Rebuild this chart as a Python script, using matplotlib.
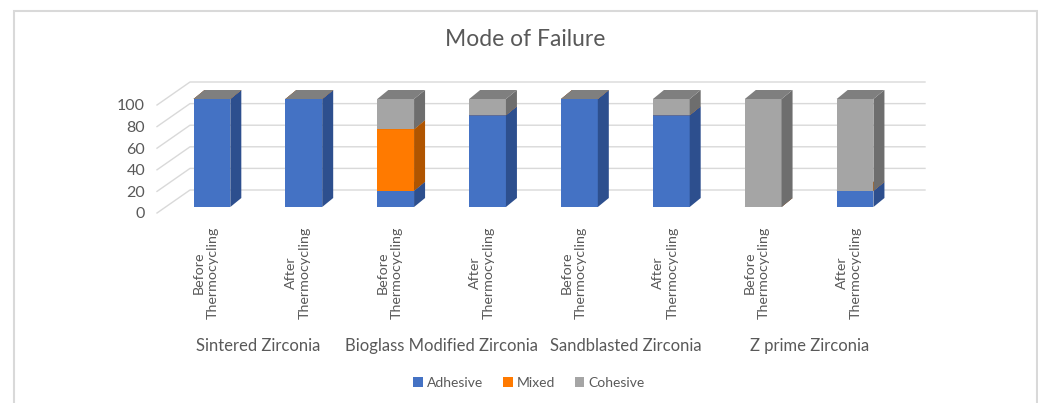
import matplotlib
matplotlib.use('Agg')
import matplotlib.pyplot as plt
from matplotlib.patches import Polygon, Rectangle, Patch
from matplotlib.transforms import ScaledTranslation

plt.rcParams['font.family'] = ['Lato', 'DejaVu Sans']

# data
groups = ['Sintered Zirconia', 'Bioglass Modified Zirconia',
          'Sandblasted Zirconia', 'Z prime Zirconia']
stages = ['Before\nThermocycling', 'After\nThermocycling']
adhesive = [100, 100, 15, 85, 100, 85, 0, 15]
mixed = [0, 0, 57, 0, 0, 0, 0, 0]
cohesive = [0, 0, 28, 15, 0, 15, 100, 85]
series_names = ['Adhesive', 'Mixed', 'Cohesive']
yticks = [0, 20, 40, 60, 80, 100]

# front / side / top colours per series
front_col = ['#4472C4', '#FF7A00', '#A5A5A5']
side_col = ['#2D4F8E', '#B05500', '#6E6E6E']
top_col = ['#3A5FA5', '#D06600', '#7F7F7F']
txt = '#595959'
grid_col = '#D9D9D9'

W, H = 1038, 403
fig = plt.figure(figsize=(W / 100, H / 100), dpi=100)
ax = fig.add_axes([166 / W, 196 / H, 735 / W, 108 / H])
ax.set_xlim(-0.5, 7.5)
ax.set_ylim(0, 100)
for sp in ax.spines.values():
    sp.set_visible(False)

# data units per pixel
ux = 8 / 735
uy = 100 / 108

# walls: slanted left lines + back lines
fx, fy = -9 * ux, -6 * uy
bx, by = 24 * ux, 17 * uy
for v in yticks:
    ax.plot([-0.5 + fx, -0.5 + bx, 7.5 + bx], [v + fy, v + by, v + by],
            color=grid_col, lw=1, clip_on=False, zorder=0)

# bars with fake 3d faces
xs = list(range(len(adhesive)))
bw = 0.4
ddx, ddy = 11 * ux, 9 * uy
bottoms = [0] * len(xs)
for s, vals in enumerate([adhesive, mixed, cohesive]):
    ax.bar(xs, vals, bottom=bottoms, width=bw, color=front_col[s],
           linewidth=0, zorder=2 + s, clip_on=False)
    for x, b, h in zip(xs, bottoms, vals):
        x1 = x + bw / 2
        x0 = x - bw / 2
        side = Polygon([(x1, b), (x1, b + h), (x1 + ddx, b + h + ddy), (x1 + ddx, b + ddy)],
                       closed=True, facecolor=side_col[s], lw=0, zorder=2 + s, clip_on=False)
        top = Polygon([(x0, b + h), (x1, b + h), (x1 + ddx, b + h + ddy), (x0 + ddx, b + h + ddy)],
                      closed=True, facecolor=top_col[s], lw=0, zorder=2 + s, clip_on=False)
        ax.add_patch(side)
        ax.add_patch(top)
    bottoms = [b + h for b, h in zip(bottoms, vals)]

# y ticks (front plane, shifted down a bit)
ax.set_yticks(yticks)
ax.tick_params(axis='y', length=0, pad=15, labelsize=11.5, labelcolor=txt)
for lab in ax.get_yticklabels():
    lab.set_transform(lab.get_transform() + ScaledTranslation(0, -6 / 100, fig.dpi_scale_trans))

# x ticks
ax.set_xticks(xs, stages * len(groups))
ax.tick_params(axis='x', length=0, pad=14, labelsize=10.3, labelcolor=txt, labelrotation=90)
for lab in ax.get_xticklabels():
    lab.set_multialignment('center')
    lab.set_transform(lab.get_transform() + ScaledTranslation(-6 / 100, 0, fig.dpi_scale_trans))

# group labels
for k, g in enumerate(groups):
    ax.text(2 * k + 0.5, 0, g, ha='center', va='center', fontsize=12, color=txt,
            transform=ax.transData + ScaledTranslation(0, -139 / 100, fig.dpi_scale_trans))

# title
fig.text(525 / W, 1 - 40 / H, 'Mode of Failure', ha='center', va='center',
         fontsize=16.5, color=txt)

# legend
handles = [Patch(facecolor=c, edgecolor='none') for c in front_col]
fig.legend(handles, series_names, loc='center', bbox_to_anchor=(529 / W, 1 - 383 / H),
           ncol=3, frameon=False, fontsize=10, labelcolor=txt,
           handlelength=0.7, handleheight=0.7, handletextpad=0.3, columnspacing=1.4)

# chart border
fig.patches.append(Rectangle((14 / W, -0.05), (1037 - 14) / W, 1.05 - 11 / H,
                             transform=fig.transFigure, fill=False,
                             edgecolor='#D9D9D9', lw=1.5))

fig.savefig('out.png', dpi=100)
